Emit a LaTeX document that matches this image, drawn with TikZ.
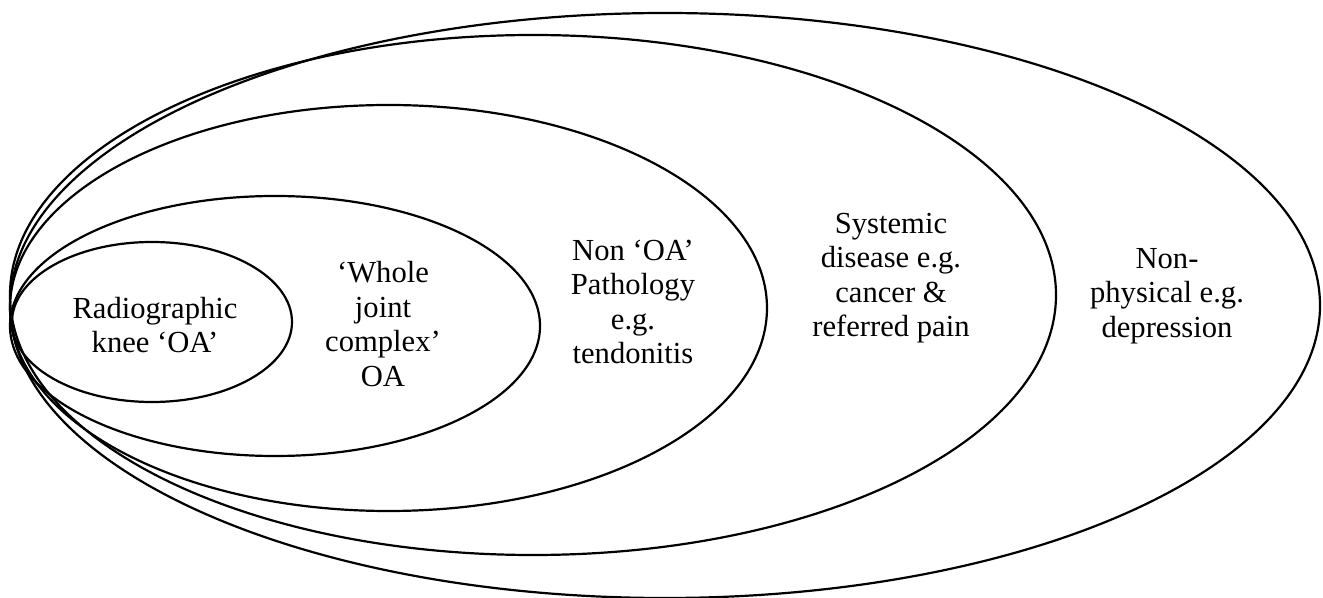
\documentclass[tikz,border=0pt]{standalone}
\usepackage{fontspec}
\setmainfont{Liberation Serif}
\usepackage{tikz}

\tikzset{
  ring/.style={line width=1.1pt},
  ringtext/.style={align=center,inner sep=0pt,font=\fontsize{15.3}{17.2}\selectfont}
}

\begin{document}
\begin{tikzpicture}[x=0.5pt,y=-0.5pt]
\useasboundingbox (0,0) rectangle (1323,598); % khung
% the five rings, inner to outer
\draw[ring] (152,322) ellipse [x radius=70pt, y radius=40pt];
\draw[ring] (275,326) ellipse [x radius=132.5pt, y radius=65pt];
\draw[ring] (388.5,308) ellipse [x radius=189.25pt, y radius=101.5pt];
\draw[ring] (533,295) ellipse [x radius=261.5pt, y radius=130pt];
\draw[ring] (665,305.5) ellipse [x radius=327.5pt, y radius=146.25pt];
% labels
\node[ringtext] (radio) at (155,325) {Radiographic\\knee `OA'};
\node[ringtext] (whole) at (383,324) {`Whole\\joint\\complex'\\OA};
\node[ringtext] (nonoa) at (633,302) {Non `OA'\\Pathology\\e.g.\\tendonitis};
\node[ringtext] (system) at (891,278) {Systemic\\disease e.g.\\cancer \&\\referred pain};
\node[ringtext] (nonphys) at (1167,296) {Non-\\physical e.g.\\depression};
\end{tikzpicture}
\end{document}
